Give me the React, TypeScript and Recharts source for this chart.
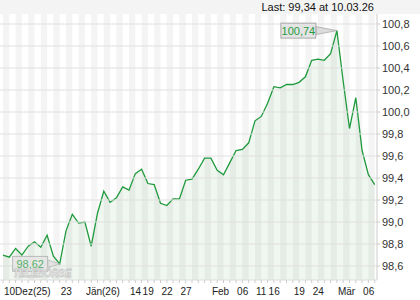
import React from 'react';
import {
  AreaChart, Area, XAxis, YAxis, ReferenceArea, ReferenceLine, ReferenceDot
} from 'recharts';

// closing prices, one per trading day (10.12.25 - 10.03.26)
const prices = [
  98.70, 98.68, 98.76, 98.70, 98.78, 98.82, 98.77, 98.88, 98.69, 98.62,
  98.92, 99.07, 98.99, 99.00, 98.78, 99.08, 99.28, 99.18, 99.22, 99.32,
  99.29, 99.44, 99.48, 99.35, 99.34, 99.17, 99.15, 99.21, 99.21, 99.38,
  99.39, 99.48, 99.58, 99.58, 99.47, 99.43, 99.54, 99.65, 99.66, 99.72,
  99.92, 99.96, 100.08, 100.23, 100.22, 100.25, 100.25, 100.27, 100.32, 100.47,
  100.48, 100.47, 100.53, 100.74, 100.28, 99.85, 100.13, 99.65, 99.43, 99.34,
];

const labelIndex = [0, 9, 13, 20, 22, 25, 28, 33, 37, 40, 42, 46, 49, 53, 57];
const labelText = ['10Dez(25)', '23', 'Jän(26)', '14', '19', '22', '27', 'Feb', '06', '11', '16', '19', '24', 'Mär', '06'];

const yTicks = [98.6, 98.8, 99.0, 99.2, 99.4, 99.6, 99.8, 100.0, 100.2, 100.4, 100.6, 100.8];

const lastDate = '10.03.26';

const FONT = '"Liberation Sans", Arial, sans-serif';
const GREEN = '#1f9a3d';

const fmt = (v: number, d: number) => v.toFixed(d).replace('.', ',');

const data = prices.map((p, i) => ({ i, p }));
const maxIdx = prices.indexOf(Math.max(...prices));
const minIdx = prices.indexOf(Math.min(...prices));

const XTick = (props: any) => {
  const { x, y, payload } = props;
  const k = labelIndex.indexOf(payload.value);
  if (k < 0) return null;
  return (
    <text x={x + 1} y={y + 10} textAnchor="start" fontSize={10} fill="#222" fontFamily={FONT}>
      {labelText[k]}
    </text>
  );
};

const Callout = (props: any) => {
  const { cx, cy, text, gap, faded } = props;
  const w = 35;
  const h = 15;
  const right = cx - gap;
  return (
    <g opacity={faded ? 0.75 : 1}>
      <polygon
        points={`${right},${cy - 4} ${cx},${cy} ${right},${cy + 4}`}
        fill="#dcdcdc"
        stroke="#aaa"
        strokeWidth={0.8}
      />
      <rect x={right - w} y={cy - h / 2} width={w} height={h} fill="#e4e4e4" stroke="#999" strokeWidth={0.8} />
      <text x={right - w / 2} y={cy + 4} textAnchor="middle" fontSize={11} fill={GREEN} fontFamily={FONT}>
        {text}
      </text>
    </g>
  );
};

export default function App() {
  return (
    <div style={{ position: 'absolute', left: 0, top: 0, width: 420, height: 300, background: '#fff' }}>
      <div
        style={{
          position: 'absolute', left: 0, top: 0, width: 420, height: 14, background: '#f4f4f4',
          fontFamily: FONT, fontSize: 11, lineHeight: '14px', textAlign: 'right',
          boxSizing: 'border-box', paddingRight: 46, color: '#111',
        }}
      >
        Last: {fmt(prices[prices.length - 1], 2)} at {lastDate}
      </div>
      <AreaChart width={420} height={300} data={data} margin={{ top: 14, right: 0, bottom: 0, left: 0 }}>
        <XAxis
          dataKey="i"
          type="number"
          domain={[-0.476, 59.365]}
          allowDataOverflow
          ticks={data.map(d => d.i)}
          interval={0}
          height={20}
          tickSize={3}
          tickLine={{ stroke: '#ccc' }}
          axisLine={{ stroke: '#ddd' }}
          tick={<XTick />}
        />
        <YAxis
          orientation="right"
          width={43}
          domain={[98.473, 100.891]}
          allowDataOverflow
          ticks={yTicks}
          interval={0}
          tickSize={3}
          tickMargin={2}
          tickLine={{ stroke: '#ccc' }}
          axisLine={{ stroke: '#ccc' }}
          tick={{ fontSize: 11, fill: '#333', fontFamily: FONT }}
          tickFormatter={(v: number) => fmt(v, 1)}
        />
        {data.filter(d => d.i % 2 === 0).map(d => (
          <ReferenceArea
            key={'s' + d.i}
            x1={d.i}
            x2={d.i + 1}
            fill="#f4f4f4"
            fillOpacity={1}
            stroke="none"
            ifOverflow="hidden"
          />
        ))}
        {yTicks.map(v => (
          <ReferenceLine key={'g' + v} y={v} stroke="#e0e0e0" />
        ))}
        <Area
          type="linear"
          dataKey="p"
          stroke={GREEN}
          strokeWidth={1.3}
          fill="#3a8a45"
          fillOpacity={0.08}
          dot={false}
          activeDot={false}
          isAnimationActive={false}
        />
        <ReferenceDot
          x={minIdx}
          y={prices[minIdx]}
          r={0}
          shape={(p: any) => <Callout {...p} text={fmt(prices[minIdx], 2)} gap={12} faded />}
        />
        <ReferenceDot
          x={maxIdx}
          y={prices[maxIdx]}
          r={0}
          shape={(p: any) => <Callout {...p} text={fmt(prices[maxIdx], 2)} gap={21} />}
        />
      </AreaChart>
      <svg style={{ position: 'absolute', left: 0, top: 0, pointerEvents: 'none' }} width={420} height={300}>
        <text
          x={13}
          y={277}
          fontSize={10}
          fontWeight="bold"
          fontStyle="italic"
          fontFamily={FONT}
          fill="#fff"
          stroke="#c8c8c8"
          strokeWidth={0.8}
          textLength={58}
          lengthAdjust="spacingAndGlyphs"
        >
          TELEBÖRSE
        </text>
      </svg>
    </div>
  );
}
